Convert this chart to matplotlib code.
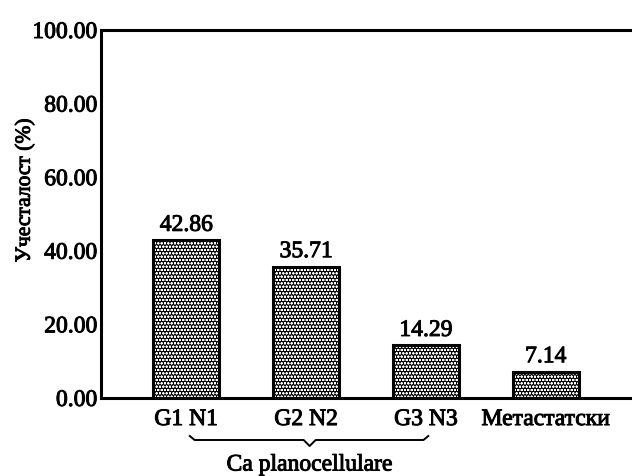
import numpy as np
import matplotlib.pyplot as plt
import matplotlib.transforms as mtransforms
import matplotlib.patheffects as pe

categories = ['G1 N1', 'G2 N2', 'G3 N3', 'Метастатски']
values = [42.86, 35.71, 14.29, 7.14]
yticks = [0, 20, 40, 60, 80, 100]
group_label = 'Ca planocellulare'
ylabel = 'Учесталост (%)'

plt.rcParams['font.family'] = ['Liberation Serif', 'DejaVu Serif']
plt.rcParams['hatch.linewidth'] = 0.6

# text in the source looks a bit heavier than the regular face
thick = [pe.withStroke(linewidth=0.7, foreground='black')]

fig = plt.figure(figsize=(6.32, 4.76), dpi=100)
ax = fig.add_axes([0.160, 0.164, 0.84, 0.773])

x = np.arange(len(categories))
# fill with dotted pattern, then outline
ax.bar(x, values, width=0.55, color='#000000', edgecolor='white', hatch='ooooo', linewidth=0)
ax.bar(x, values, width=0.55, color='none', edgecolor='black', linewidth=2.2)

for xi, v in zip(x, values):
    ax.text(xi, v + 1.2, f'{v:.2f}', ha='center', va='bottom', fontsize=17, path_effects=thick)

ax.set_xlim(-0.71, 3.72)
ax.set_ylim(0, 100)
ax.set_yticks(yticks)
ax.set_yticklabels([f'{t:.2f}' for t in yticks], fontsize=17)
ax.set_xticks(x)
ax.set_xticklabels(categories, fontsize=17)
for lbl in ax.get_xticklabels() + ax.get_yticklabels():
    lbl.set_path_effects(thick)
ax.tick_params(axis='both', length=0)
ax.tick_params(axis='x', pad=8)
ax.tick_params(axis='y', pad=3)
ax.set_ylabel(ylabel, fontsize=15.5, path_effects=thick)
ax.yaxis.set_label_coords(-0.125, 0.565)

for side in ['left', 'top', 'bottom']:
    ax.spines[side].set_linewidth(2.2)
ax.spines['right'].set_visible(False)

# brace under the first three groups
trans = mtransforms.blended_transform_factory(ax.transData, fig.transFigure)
yt, ym, yp = 1 - 436 / 476, 1 - 440 / 476, 1 - 446 / 476
bx = [0.03, 0.07, 0.98, 1.03, 1.08, 1.98, 2.02]
by = [yt, ym, ym, yp, ym, ym, yt]
ax.plot(bx, by, color='black', lw=1.4, transform=trans, clip_on=False)
ax.text(1.03, 1 - 465 / 476, group_label, transform=trans, ha='center', va='center',
        fontsize=17, path_effects=thick)

fig.savefig('out.png', dpi=100)
